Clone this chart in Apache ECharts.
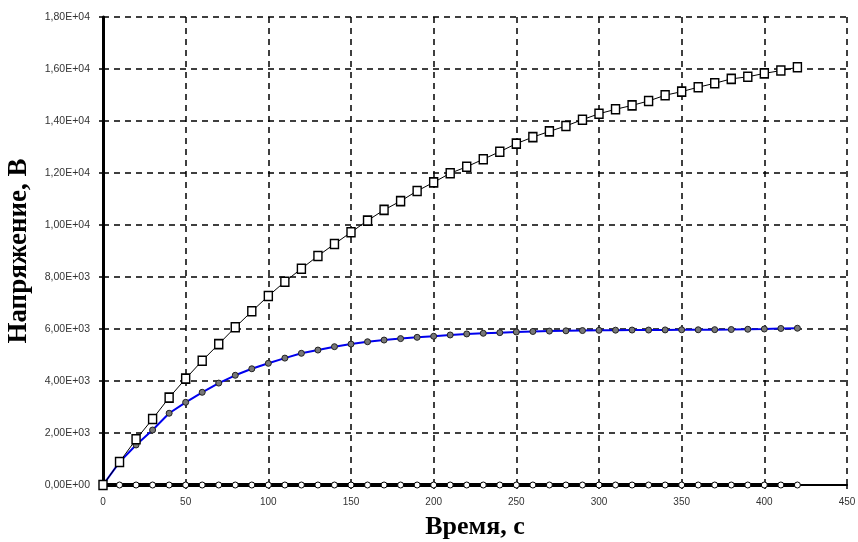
<!DOCTYPE html>
<html>
<head>
<meta charset="utf-8">
<script src="https://cdn.jsdelivr.net/npm/echarts@6/dist/echarts.min.js"></script>
<style>
html,body{margin:0;padding:0;background:#fff;}
#chart{width:858px;height:542px;}
</style>
</head>
<body>
<div id="chart"></div>
<script>
var timeS = [0,10,20,30,40,50,60,70,80,90,100,110,120,130,140,150,160,170,180,190,200,210,220,230,240,250,260,270,280,290,300,310,320,330,340,350,360,370,380,390,400,410,420];
var seriesSquares = [0,885,1757,2540,3360,4090,4780,5420,6065,6680,7270,7820,8320,8810,9270,9720,10170,10580,10920,11310,11640,11990,12240,12530,12820,13130,13380,13600,13810,14050,14280,14450,14600,14770,14990,15130,15300,15450,15620,15700,15830,15940,16065];
var seriesBlue = [0,880,1540,2115,2760,3180,3565,3920,4220,4470,4680,4880,5065,5190,5320,5420,5510,5575,5630,5680,5720,5770,5810,5835,5860,5885,5905,5920,5930,5940,5950,5955,5960,5960,5965,5970,5970,5975,5980,5990,6000,6020,6030];
var seriesZero = [0,0,0,0,0,0,0,0,0,0,0,0,0,0,0,0,0,0,0,0,0,0,0,0,0,0,0,0,0,0,0,0,0,0,0,0,0,0,0,0,0,0,0];
var yTitle = 'Напряжение, В';
var xTitle = 'Время, с';

function pairs(xs, ys){ return xs.map(function(x,i){ return [x, ys[i]]; }); }
function sciFmt(v){
  var s = Number(v).toExponential(2);
  var m = s.split('e');
  var e = parseInt(m[1],10);
  var es = (e<0?'-':'+') + (Math.abs(e)<10?'0':'') + Math.abs(e);
  return m[0].replace('.',',') + 'E' + es;
}

var chart = echarts.init(document.getElementById('chart'), null, {renderer:'canvas'});
chart.setOption({
  animation:false,
  backgroundColor:'#fff',
  grid:{left:103, right:11, top:17, bottom:57, containLabel:false, outerBoundsMode:'none'},
  xAxis:{
    type:'value', min:0, max:450, interval:50,
    name:xTitle, nameLocation:'middle', nameGap:29,
    nameTextStyle:{fontFamily:'Liberation Serif', fontWeight:'bold', fontSize:26, color:'#000'},
    axisLine:{show:true, onZero:false, lineStyle:{color:'#000', width:2}},
    axisTick:{show:true, inside:false, length:4, lineStyle:{color:'#000', width:1.5}},
    axisLabel:{fontFamily:'Liberation Sans', fontSize:10, color:'#333', margin:12},
    splitLine:{show:true, lineStyle:{color:'#000', type:[6,5], width:1.5}}
  },
  yAxis:{
    type:'value', min:0, max:18000, interval:2000,
    name:yTitle, nameLocation:'middle', nameGap:70, nameRotate:90,
    nameTextStyle:{fontFamily:'Liberation Serif', fontWeight:'bold', fontSize:27, color:'#000'},
    axisLine:{show:true, onZero:false, lineStyle:{color:'#000', width:3}},
    axisTick:{show:true, length:4, lineStyle:{color:'#000', width:1.5}},
    axisLabel:{fontFamily:'Liberation Sans', fontSize:10.5, color:'#333', margin:13, formatter:sciFmt},
    splitLine:{show:true, lineStyle:{color:'#000', type:[6,5], width:1.5}}
  },
  series:[
    {
      type:'line', data:pairs(timeS, seriesZero), z:3,
      symbol:'circle', symbolSize:6, showAllSymbol:true,
      itemStyle:{color:'#fff', borderColor:'#000', borderWidth:1},
      lineStyle:{color:'#000', width:4}
    },
    {
      type:'line', data:pairs(timeS, seriesBlue), z:4, smooth:false,
      symbol:'circle', symbolSize:6, showAllSymbol:true,
      itemStyle:{color:'#777', borderColor:'#222', borderWidth:1},
      lineStyle:{color:'#0000ee', width:2}
    },
    {
      type:'line', data:pairs(timeS, seriesSquares), z:5,
      symbol:'rect', symbolSize:[8,9], showAllSymbol:true,
      itemStyle:{color:'#fff', borderColor:'#000', borderWidth:1.5},
      lineStyle:{color:'#000', width:1}
    }
  ]
});
</script>
</body>
</html>
